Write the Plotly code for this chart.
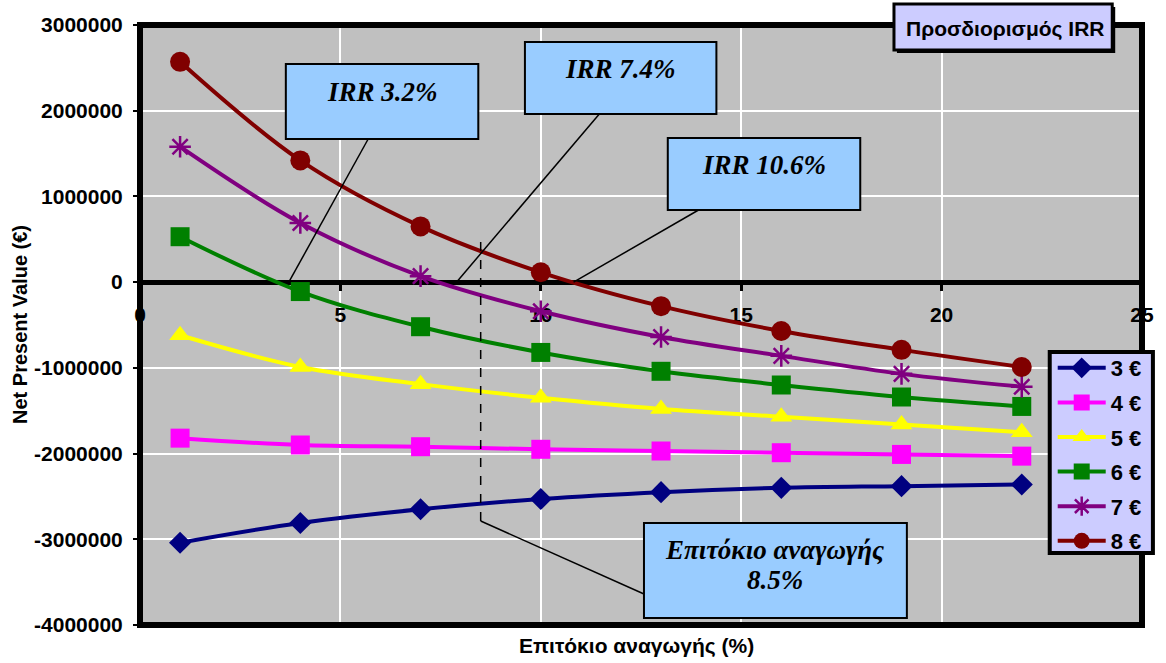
import plotly.graph_objects as go

# Discount rate (%) at which NPV was evaluated
rates = [1, 4, 7, 10, 13, 16, 19, 22]

# Net present value (€) per selling price
npv_3 = [-3040000, -2810000, -2650000, -2530000, -2450000, -2400000, -2380000, -2360000]
npv_4 = [-1820000, -1900000, -1920000, -1950000, -1970000, -1990000, -2010000, -2030000]
npv_5 = [-620000, -990000, -1190000, -1350000, -1480000, -1570000, -1660000, -1750000]
npv_6 = [530000, -110000, -520000, -820000, -1040000, -1200000, -1340000, -1450000]
npv_7 = [1580000, 690000, 70000, -340000, -640000, -860000, -1070000, -1220000]
npv_8 = [2570000, 1420000, 650000, 115000, -280000, -570000, -790000, -990000]

series_names = ["3 €", "4 €", "5 €", "6 €", "7 €", "8 €"]
series_values = [npv_3, npv_4, npv_5, npv_6, npv_7, npv_8]

x_ticks = [0, 5, 10, 15, 20, 25]
y_ticks = [-4000000, -3000000, -2000000, -1000000, 0, 1000000, 2000000, 3000000]

irr_labels = ["IRR 3.2%", "IRR 7.4%", "IRR 10.6%"]
discount_rate = 8.5

colors = ["#000080", "#FF00FF", "#FFFF00", "#008000", "#800080", "#800000"]
symbols = ["diamond", "square", "triangle-up", "square", "asterisk", "circle"]
sizes = [17, 19, 19, 19, 18, 20]

W, H = 1166, 663
ML, MR, MT, MB = 140, 16, 25, 38
PW, PH = W - ML - MR, H - MT - MB


def px_x(px):
    return (px - ML) / PW


def px_y(py):
    return (H - MB - py) / PH


fig = go.Figure()
for i, (name, vals) in enumerate(zip(series_names, series_values)):
    marker = dict(symbol=symbols[i], size=sizes[i], color=colors[i])
    if symbols[i] == "asterisk":
        marker["line"] = dict(color=colors[i], width=2.5)
    else:
        marker["line"] = dict(width=0)
    fig.add_trace(go.Scatter(
        x=rates, y=vals, name=name, mode="lines+markers",
        line=dict(color=colors[i], width=4, shape="spline", smoothing=1),
        marker=marker, legendgroup=name,
    ))

y_min, y_max = y_ticks[0], y_ticks[-1]
zero_pos = (0 - y_min) / (y_max - y_min)
x_max = x_ticks[-1]

box_line = dict(color="black", width=2)
box_fill = "#99CCFF"
thin = dict(color="black", width=1.5)

shapes = [
    # plot frame
    dict(type="rect", xref="paper", yref="paper", x0=0, x1=1, y0=0, y1=1,
         line=dict(color="black", width=6), layer="above"),
    # discount-rate marker line
    dict(type="line", xref="paper", yref="paper",
         x0=discount_rate / x_max, x1=discount_rate / x_max,
         y0=px_y(521), y1=px_y(233),
         line=dict(color="black", width=1.5, dash="dash"), layer="above"),
    dict(type="line", xref="paper", yref="paper",
         x0=discount_rate / x_max, x1=px_x(648), y0=px_y(521), y1=px_y(594),
         line=thin, layer="above"),
    # callout leader lines
    dict(type="line", xref="paper", yref="paper", x0=px_x(370), x1=px_x(290),
         y0=px_y(139), y1=zero_pos, line=thin, layer="above"),
    dict(type="line", xref="paper", yref="paper", x0=px_x(603), x1=px_x(459),
         y0=px_y(114), y1=zero_pos, line=thin, layer="above"),
    dict(type="line", xref="paper", yref="paper", x0=px_x(703), x1=px_x(577),
         y0=px_y(210), y1=zero_pos, line=thin, layer="above"),
]

# callout boxes (left, top, right, bottom in pixels)
callouts = [
    (287, 64, 481, 139),
    (528, 42, 721, 114),
    (672, 138, 866, 210),
    (648, 523, 913, 618),
]
for (l, t, r, b) in callouts:
    shapes.append(dict(type="rect", xref="paper", yref="paper",
                       x0=px_x(l), x1=px_x(r), y0=px_y(b), y1=px_y(t),
                       fillcolor=box_fill, line=box_line, layer="above"))

# title box with drop shadow
shapes.append(dict(type="rect", xref="paper", yref="paper",
                   x0=px_x(903), x1=px_x(1123), y0=px_y(53), y1=px_y(7),
                   fillcolor="black", line=dict(width=0), layer="above"))
shapes.append(dict(type="rect", xref="paper", yref="paper",
                   x0=px_x(900), x1=px_x(1120), y0=px_y(50), y1=px_y(4),
                   fillcolor="#CCCCFF", line=dict(color="black", width=3), layer="above"))

# legend panel
shapes.append(dict(type="rect", xref="paper", yref="paper",
                   x0=px_x(1057), x1=px_x(1161), y0=px_y(553), y1=px_y(352),
                   fillcolor="#CCCCFF", line=dict(color="black", width=4), layer="above"))

serif = dict(family="Liberation Serif", size=27, color="black")
annotations = [
    dict(text="<b><i>%s</i></b>" % irr_labels[0], x=px_x(384), y=px_y(92)),
    dict(text="<b><i>%s</i></b>" % irr_labels[1], x=px_x(624), y=px_y(69)),
    dict(text="<b><i>%s</i></b>" % irr_labels[2], x=px_x(769), y=px_y(165)),
    dict(text="<b><i>Επιτόκιο αναγωγής</i></b>", x=px_x(780), y=px_y(550)),
    dict(text="<b><i>%s%%</i></b>" % discount_rate, x=px_x(780), y=px_y(580)),
]
for a in annotations:
    a.update(font=serif)

sans = "Liberation Sans"
annotations += [
    dict(text="<b>Προσδιορισμός IRR</b>", x=px_x(1012), y=px_y(29),
         font=dict(family=sans, size=21, color="black")),
    dict(text="<b>Επιτόκιο αναγωγής (%)</b>", x=px_x(640), y=px_y(646),
         font=dict(family=sans, size=21, color="black")),
    dict(text="<b>Net Present Value (€)</b>", x=px_x(19), y=px_y(324),
         textangle=-90, font=dict(family=sans, size=20, color="black")),
]
for a in annotations:
    a.update(xref="paper", yref="paper", showarrow=False,
             xanchor="center", yanchor="middle")

fig.update_layout(
    width=W, height=H, autosize=False,
    margin=dict(l=ML, r=MR, t=MT, b=MB, pad=0),
    paper_bgcolor="white", plot_bgcolor="#C0C0C0",
    font=dict(family=sans, color="black"),
    shapes=shapes, annotations=annotations,
    showlegend=True,
    legend=dict(
        x=px_x(1060), y=px_y(347), xanchor="left", yanchor="top",
        bgcolor="rgba(0,0,0,0)", borderwidth=0,
        font=dict(family=sans, size=22, color="black", weight="bold"),
        tracegroupgap=3, itemwidth=48,
    ),
    xaxis=dict(
        range=[0, x_max], tickvals=x_ticks, ticktext=[str(v) for v in x_ticks],
        anchor="free", position=zero_pos,
        showline=True, linecolor="black", linewidth=5,
        ticks="outside", ticklen=6, tickwidth=3, tickcolor="black",
        ticklabelstandoff=6,
        tickfont=dict(family=sans, size=21, color="black", weight="bold"),
        showgrid=True, gridcolor="white", gridwidth=1.5,
        zeroline=False, layer="below traces",
    ),
    yaxis=dict(
        range=[y_min, y_max], tickvals=y_ticks, ticktext=[str(v) for v in y_ticks],
        showline=False, ticks="outside", ticklen=6, tickwidth=2, tickcolor="black",
        ticklabelstandoff=6,
        tickfont=dict(family=sans, size=21, color="black", weight="bold"),
        showgrid=True, gridcolor="white", gridwidth=1.5,
        zeroline=False, layer="below traces",
    ),
)

fig.write_html("out.html")
